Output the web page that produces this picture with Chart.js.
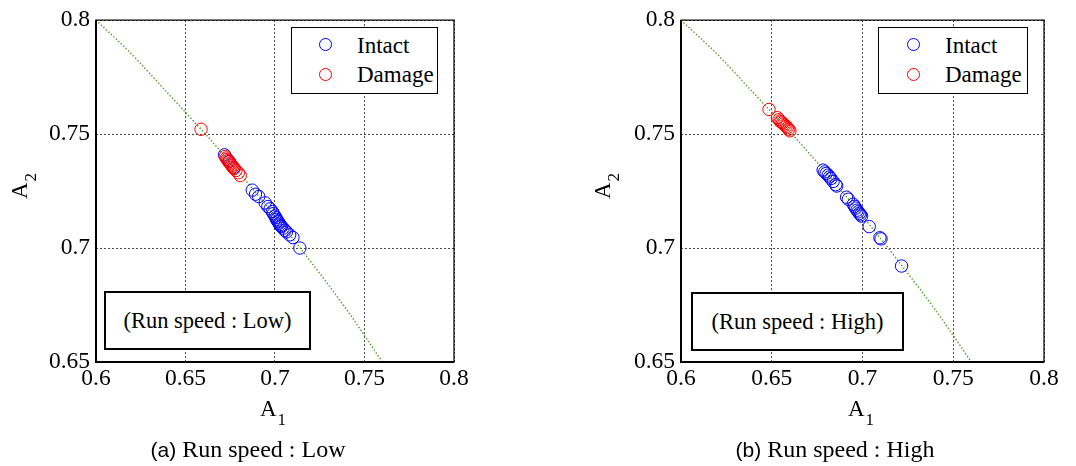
<!DOCTYPE html>
<html><head><meta charset="utf-8">
<script src="https://cdn.jsdelivr.net/npm/chart.js@4"></script>
<style>
body{margin:0;background:#fff;}
#wrap{position:relative;width:1076px;height:466px;overflow:hidden;font-family:"Liberation Serif","Times New Roman",serif;color:#000;background:#fff}
canvas{position:absolute;top:0}
.lg{position:absolute;box-sizing:border-box;border:1.5px solid #000;background:#fff}
.mk{position:absolute;width:13px;height:13px;box-sizing:border-box;border:1px solid;border-radius:50%}
.lt{position:absolute;font-size:23px;line-height:23px;white-space:nowrap}
.inset{position:absolute;box-sizing:border-box;border:2px solid #000;background:#fff;font-size:22.5px;display:flex;align-items:center;justify-content:center;white-space:nowrap}
.xt{position:absolute;width:80px;text-align:center;font-size:23px;line-height:23px;white-space:nowrap}
.xt sub,.yt sub{font-size:17px;vertical-align:-9px;line-height:0;margin-left:1px}
.yt{position:absolute;width:60px;height:24px;text-align:center;font-size:23px;line-height:24px;transform:rotate(-90deg);white-space:nowrap}
.cap{position:absolute;width:320px;text-align:center;font-size:24px;line-height:26px;white-space:nowrap}
.cap .s{font-family:"Liberation Sans",Arial,sans-serif;font-size:21px}
</style></head>
<body>
<div id="wrap">
  <canvas id="c1" width="540" height="466" style="left:0"></canvas>
  <canvas id="c2" width="536" height="466" style="left:540px"></canvas>

  <div class="lg" style="left:291px;top:27px;width:147px;height:67px"></div>
  <div class="mk" style="left:318.5px;top:37.5px;border-color:#0000ff"></div>
  <div class="lt" style="left:357px;top:34px">Intact</div>
  <div class="mk" style="left:318.5px;top:67.5px;border-color:#ff0000"></div>
  <div class="lt" style="left:357px;top:63px">Damage</div>

  <div class="lg" style="left:878px;top:27px;width:150px;height:67px"></div>
  <div class="mk" style="left:906.5px;top:37.5px;border-color:#0000ff"></div>
  <div class="lt" style="left:945px;top:34px">Intact</div>
  <div class="mk" style="left:906.5px;top:67.5px;border-color:#ff0000"></div>
  <div class="lt" style="left:945px;top:63px">Damage</div>

  <div class="inset" style="left:104px;top:291px;width:207px;height:59px">(Run speed : Low)</div>
  <div class="inset" style="left:691px;top:292px;width:213px;height:59px">(Run speed : High)</div>

  <div class="xt" style="left:233px;top:397px">A<sub>1</sub></div>
  <div class="xt" style="left:821px;top:397px">A<sub>1</sub></div>
  <div class="yt" style="left:-10px;top:174px">A<sub>2</sub></div>
  <div class="yt" style="left:573px;top:174px">A<sub>2</sub></div>

  <div class="cap" style="left:88px;top:436px"><span class="s">(a)</span> Run speed : Low</div>
  <div class="cap" style="left:675px;top:436px"><span class="s">(b)</span> Run speed : High</div>
</div>
<script>
// Axis ticks
const xTicks = [0.6, 0.65, 0.7, 0.75, 0.8];
const xTickLabels = ['0.6', '0.65', '0.7', '0.75', '0.8'];
const yTicks = [0.65, 0.7, 0.75, 0.8];
const yTickLabels = ['0.65', '0.7', '0.75', '0.8'];

// Reference curve
const curveA1 = [0.60, 0.62, 0.64, 0.66, 0.68, 0.70, 0.72, 0.74, 0.76];
const curveA2 = [0.800, 0.785, 0.768, 0.751, 0.733, 0.714, 0.694, 0.673, 0.650];

// (a) Run speed: Low
const lowIntactA1 = [0.6718,0.6745,0.6770,0.6873,0.6891,0.6909,0.6945,0.6960,0.6973,0.6985,0.6991,0.7000,0.7005,0.7009,0.7014,0.7018,0.7023,0.7027,0.7032,0.7036,0.7045,0.7055,0.7064,0.7082,0.7100,0.7139];
const lowIntactA2 = [0.7409,0.7380,0.7352,0.7254,0.7236,0.7226,0.7198,0.7182,0.7172,0.7160,0.7151,0.7140,0.7133,0.7125,0.7119,0.7115,0.7109,0.7102,0.7098,0.7094,0.7087,0.7078,0.7071,0.7058,0.7046,0.7000];
const lowDamageA1 = [0.6587,0.6722,0.6728,0.6733,0.6738,0.6743,0.6748,0.6753,0.6758,0.6764,0.6772,0.6782,0.6795,0.6806];
const lowDamageA2 = [0.7521,0.7402,0.7395,0.7389,0.7384,0.7378,0.7373,0.7368,0.7362,0.7356,0.7348,0.7340,0.7330,0.7318];

// (b) Run speed: High
const highIntactA1 = [0.6783,0.6792,0.6800,0.6811,0.6818,0.6826,0.6838,0.6853,0.6858,0.6912,0.6922,0.6949,0.6956,0.6963,0.6970,0.6976,0.6983,0.6989,0.6995,0.7037,0.7096,0.7102,0.7215];
const highIntactA2 = [0.7342,0.7334,0.7327,0.7320,0.7312,0.7305,0.7292,0.7278,0.7272,0.7223,0.7214,0.7192,0.7183,0.7175,0.7166,0.7159,0.7152,0.7146,0.7140,0.7094,0.7045,0.7040,0.6921];
const highDamageA1 = [0.6485,0.6531,0.6540,0.6546,0.6552,0.6559,0.6565,0.6572,0.6579,0.6586,0.6593,0.6600];
const highDamageA2 = [0.7608,0.7572,0.7563,0.7557,0.7553,0.7549,0.7544,0.7539,0.7534,0.7528,0.7521,0.7514];

const tickFont = {family: '"Liberation Serif","Times New Roman",serif', size: 23.5};
const gridColor = 'rgba(40,40,40,0.85)';

const frame = {
  id: 'frame',
  afterDraw(c) {
    const {ctx, chartArea: a} = c;
    ctx.save();
    ctx.strokeStyle = '#000';
    ctx.lineWidth = 1.2;
    ctx.strokeRect(a.left, a.top, a.right - a.left, a.bottom - a.top);
    ctx.lineWidth = 2;
    ctx.beginPath();
    ctx.moveTo(a.left, a.top);
    ctx.lineTo(a.left, a.bottom);
    ctx.lineTo(a.right, a.bottom);
    ctx.stroke();
    ctx.restore();
  }
};

function pts(a, b) { return a.map((v, i) => ({x: v, y: b[i]})); }

function build(id, intA1, intA2, dmgA1, dmgA2, areaLeft, areaRight, canvasW) {
  new Chart(document.getElementById(id), {
    type: 'scatter',
    data: {
      datasets: [
        {label: 'Damage', data: pts(dmgA1, dmgA2), borderColor: '#ff0000', backgroundColor: 'rgba(0,0,0,0)',
         pointRadius: 6.2, borderWidth: 1, pointBorderWidth: 1, order: 0},
        {label: 'Intact', data: pts(intA1, intA2), borderColor: '#0000ff', backgroundColor: 'rgba(0,0,0,0)',
         pointRadius: 6.2, borderWidth: 1, pointBorderWidth: 1, order: 1},
        {type: 'line', label: 'A1² + A2² = 1', data: pts(curveA1, curveA2), borderColor: '#4f9a22',
         borderWidth: 1.4, borderDash: [1.4, 2], pointRadius: 0, fill: false, tension: 0.4, cubicInterpolationMode: 'monotone', order: 2}
      ]
    },
    options: {
      responsive: false, animation: false, devicePixelRatio: 1,
      layout: {padding: {left: 0, top: 16, right: canvasW - areaRight, bottom: 0}},
      plugins: {legend: {display: false}, tooltip: {enabled: false}},
      scales: {
        x: {
          type: 'linear', min: 0.6, max: 0.8,
          afterBuildTicks: s => { s.ticks = xTicks.map(v => ({value: v})); },
          afterFit: s => { s.height = 104; },
          ticks: {callback: (v, i) => xTickLabels[i], font: tickFont, color: '#000', padding: 3, maxRotation: 0, autoSkip: false},
          grid: {color: gridColor, lineWidth: 1, drawTicks: false},
          border: {display: false, dash: [2, 2]}
        },
        y: {
          type: 'linear', min: 0.65, max: 0.8,
          afterBuildTicks: s => { s.ticks = yTicks.map(v => ({value: v})); },
          afterFit: s => { s.width = areaLeft; },
          ticks: {callback: (v, i) => yTickLabels[i], font: tickFont, color: '#000', padding: 6, autoSkip: false},
          grid: {color: gridColor, lineWidth: 1, drawTicks: false},
          border: {display: false, dash: [2, 2]}
        }
      }
    },
    plugins: [frame]
  });
}

build('c1', lowIntactA1, lowIntactA2, lowDamageA1, lowDamageA2, 96, 454, 540);
build('c2', highIntactA1, highIntactA2, highDamageA1, highDamageA2, 141, 504, 536);
</script>
</body></html>
